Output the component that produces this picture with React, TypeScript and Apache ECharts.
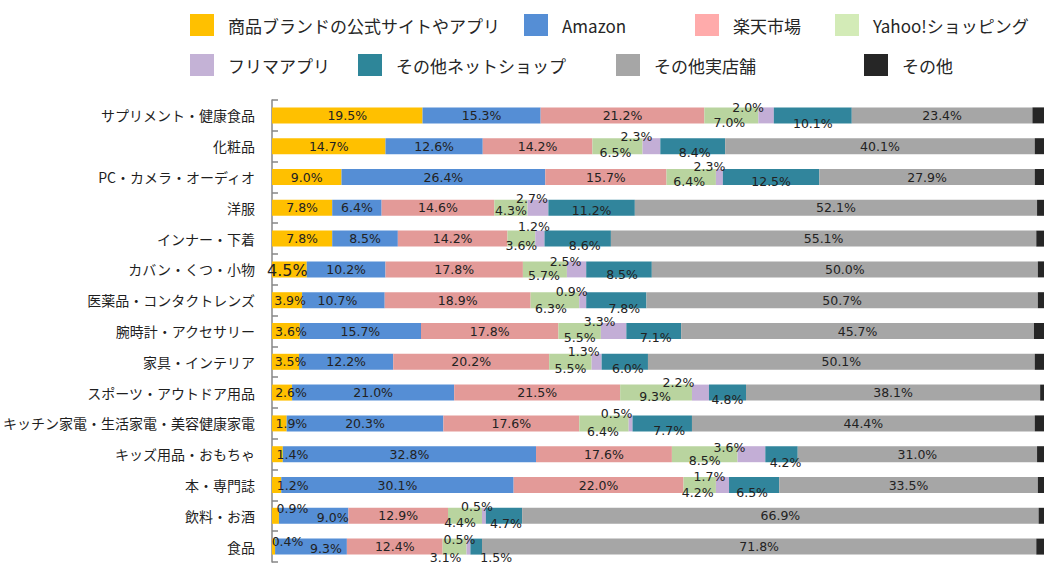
import React, { useEffect, useRef } from "react";
import * as echarts from "echarts";

const categories = [
  "サプリメント・健康食品",
  "化粧品",
  "PC・カメラ・オーディオ",
  "洋服",
  "インナー・下着",
  "カバン・くつ・小物",
  "医薬品・コンタクトレンズ",
  "腕時計・アクセサリー",
  "家具・インテリア",
  "スポーツ・アウトドア用品",
  "キッチン家電・生活家電・美容健康家電",
  "キッズ用品・おもちゃ",
  "本・専門誌",
  "飲料・お酒",
  "食品",
];

const seriesNames = [
  "商品ブランドの公式サイトやアプリ",
  "Amazon",
  "楽天市場",
  "Yahoo!ショッピング",
  "フリマアプリ",
  "その他ネットショップ",
  "その他実店舗",
  "その他",
];

const brandApp = [19.5, 14.7, 9.0, 7.8, 7.8, 4.5, 3.9, 3.6, 3.5, 2.6, 1.9, 1.4, 1.2, 0.9, 0.4];
const amazon = [15.3, 12.6, 26.4, 6.4, 8.5, 10.2, 10.7, 15.7, 12.2, 21.0, 20.3, 32.8, 30.1, 9.0, 9.3];
const rakuten = [21.2, 14.2, 15.7, 14.6, 14.2, 17.8, 18.9, 17.8, 20.2, 21.5, 17.6, 17.6, 22.0, 12.9, 12.4];
const yahoo = [7.0, 6.5, 6.4, 4.3, 3.6, 5.7, 6.3, 5.5, 5.5, 9.3, 6.4, 8.5, 4.2, 4.4, 3.1];
const fleaApp = [2.0, 2.3, 0.9, 2.7, 1.2, 2.5, 0.9, 3.3, 1.3, 2.2, 0.5, 3.6, 1.7, 0.5, 0.5];
const otherNet = [10.1, 8.4, 12.5, 11.2, 8.6, 8.5, 7.8, 7.1, 6.0, 4.8, 7.7, 4.2, 6.5, 4.7, 1.5];
const otherStore = [23.4, 40.1, 27.9, 52.1, 55.1, 50.0, 50.7, 45.7, 50.1, 38.1, 44.4, 31.0, 33.5, 66.9, 71.8];
const other = [1.5, 1.2, 1.2, 0.9, 1.0, 0.8, 0.8, 1.3, 1.2, 0.5, 1.2, 0.9, 0.8, 0.7, 1.0];

// label text shown in the source where it differs from the drawn bar
const labelTextOverrides: Record<number, Record<number, string>> = {
  4: { 2: "2.3%" },
};

const seriesValues = [brandApp, amazon, rakuten, yahoo, fleaApp, otherNet, otherStore, other];

const barColors = ["#FFC000", "#558ED5", "#E39A98", "#B9D49F", "#C3AED6", "#31859C", "#A6A6A6", "#262626"];
const legendColors = ["#FFC000", "#558ED5", "#FFABAB", "#D3EBB7", "#C4B2D6", "#2E8699", "#A6A6A6", "#262626"];

// label offsets [dx, dy] per series per row (styling)
const Z: [number, number] = [0, 0];
const labelOffsets: [number, number][][] = [
  [Z, Z, Z, Z, Z, [-2, 1], [3, 0], [5, 0], [5, 0], [9, 0], [12, 0], [15, 0], [16, 0], [17, -7], [14, -5]],
  [Z, Z, Z, Z, Z, Z, [-6, 0], Z, Z, Z, Z, Z, Z, [19, 2], [15, 2]],
  [Z, Z, Z, Z, Z, Z, Z, Z, Z, Z, Z, Z, Z, Z, Z],
  [[-2, 7], [-2, 6], [-2, 4], [0, 3], [0, 7], [-1, 6], [-4, 8], [0, 6], [0, 7], [-1, 4], [-1, 8], [0, 6], [-2, 7], [-5, 7], [-9, 11]],
  [[-18, -8], [-15, -10], [-10, -11], [-6, -9], [-6, -12], [-11, -8], [-11, -9], [-14, -10], [-13, -10], [-22, -10], [-14, -10], [-22, -7], [-13, -9], [-7, -9], [-9, -7]],
  [[0, 8], [2, 6], [0, 4], [0, 3], [7, 7], [3, 5], [8, 8], [2, 6], [3, 7], [0, 7], [7, 7], [4, 8], [-2, 7], [2, 8], [20, 11]],
  [Z, Z, Z, Z, Z, Z, Z, Z, Z, Z, Z, Z, Z, Z, Z],
  [Z, Z, Z, Z, Z, Z, Z, Z, Z, Z, Z, Z, Z, Z, Z],
];
const labelFontSizes: Record<number, Record<number, number>> = {
  0: { 5: 16 },
};

const legendPlacement = [
  { left: 190, top: 14 },
  { left: 524, top: 14 },
  { left: 695, top: 14 },
  { left: 835, top: 14 },
  { left: 190, top: 54 },
  { left: 358, top: 54 },
  { left: 616, top: 54 },
  { left: 864, top: 54 },
];

const JP = "'Noto Sans CJK JP', 'Noto Sans', sans-serif";
const NUM = "'DejaVu Sans', Verdana, sans-serif";

export default function App() {
  const ref = useRef<HTMLDivElement>(null);
  useEffect(() => {
    if (!ref.current) return;
    const chart = echarts.init(ref.current, undefined, { renderer: "svg" });

    const series = seriesNames.map((name, s) => ({
      name,
      type: "bar",
      stack: "total",
      barWidth: 16,
      itemStyle: { color: barColors[s] },
      label: {
        show: s !== 7,
        position: "inside",
        fontFamily: NUM,
        fontSize: 12.5,
        color: "#222222",
      },
      emphasis: { disabled: true },
      data: seriesValues[s].map((v, i) => {
        const override = labelTextOverrides[s] && labelTextOverrides[s][i];
        const fs = labelFontSizes[s] && labelFontSizes[s][i];
        const off = labelOffsets[s][i];
        return {
          value: v,
          label: {
            offset: off,
            formatter: override ? override : v.toFixed(1) + "%",
            ...(fs ? { fontSize: fs } : {}),
          },
        };
      }),
    }));

    const legends = seriesNames.map((name, s) => ({
      data: [{ name, itemStyle: { color: legendColors[s] } }],
      left: legendPlacement[s].left,
      top: legendPlacement[s].top,
      padding: 0,
      icon: "rect",
      itemWidth: 24,
      itemHeight: 22,
      selectedMode: false,
      textStyle: {
        fontFamily: JP,
        fontSize: 17,
        color: "#262626",
        padding: [0, 0, 0, 9],
      },
    }));

    chart.setOption({
      animation: false,
      backgroundColor: "#ffffff",
      legend: legends,
      grid: { left: 272, right: 10, top: 100, bottom: 4, containLabel: false },
      xAxis: {
        type: "value",
        min: 0,
        max: 100,
        show: false,
      },
      yAxis: {
        type: "category",
        data: categories,
        inverse: true,
        axisLine: { show: true, lineStyle: { color: "#878787", width: 1.5 } },
        axisTick: { show: true, inside: true, length: 6, lineStyle: { color: "#878787", width: 1.5 } },
        axisLabel: {
          fontFamily: JP,
          fontSize: 14,
          color: "#1f1f1f",
          margin: 17,
        },
        splitLine: { show: false },
      },
      series,
    });

    return () => chart.dispose();
  }, []);

  return (
    <div
      ref={ref}
      style={{ position: "fixed", left: 0, top: 0, width: 1054, height: 566, background: "#fff" }}
    />
  );
}
